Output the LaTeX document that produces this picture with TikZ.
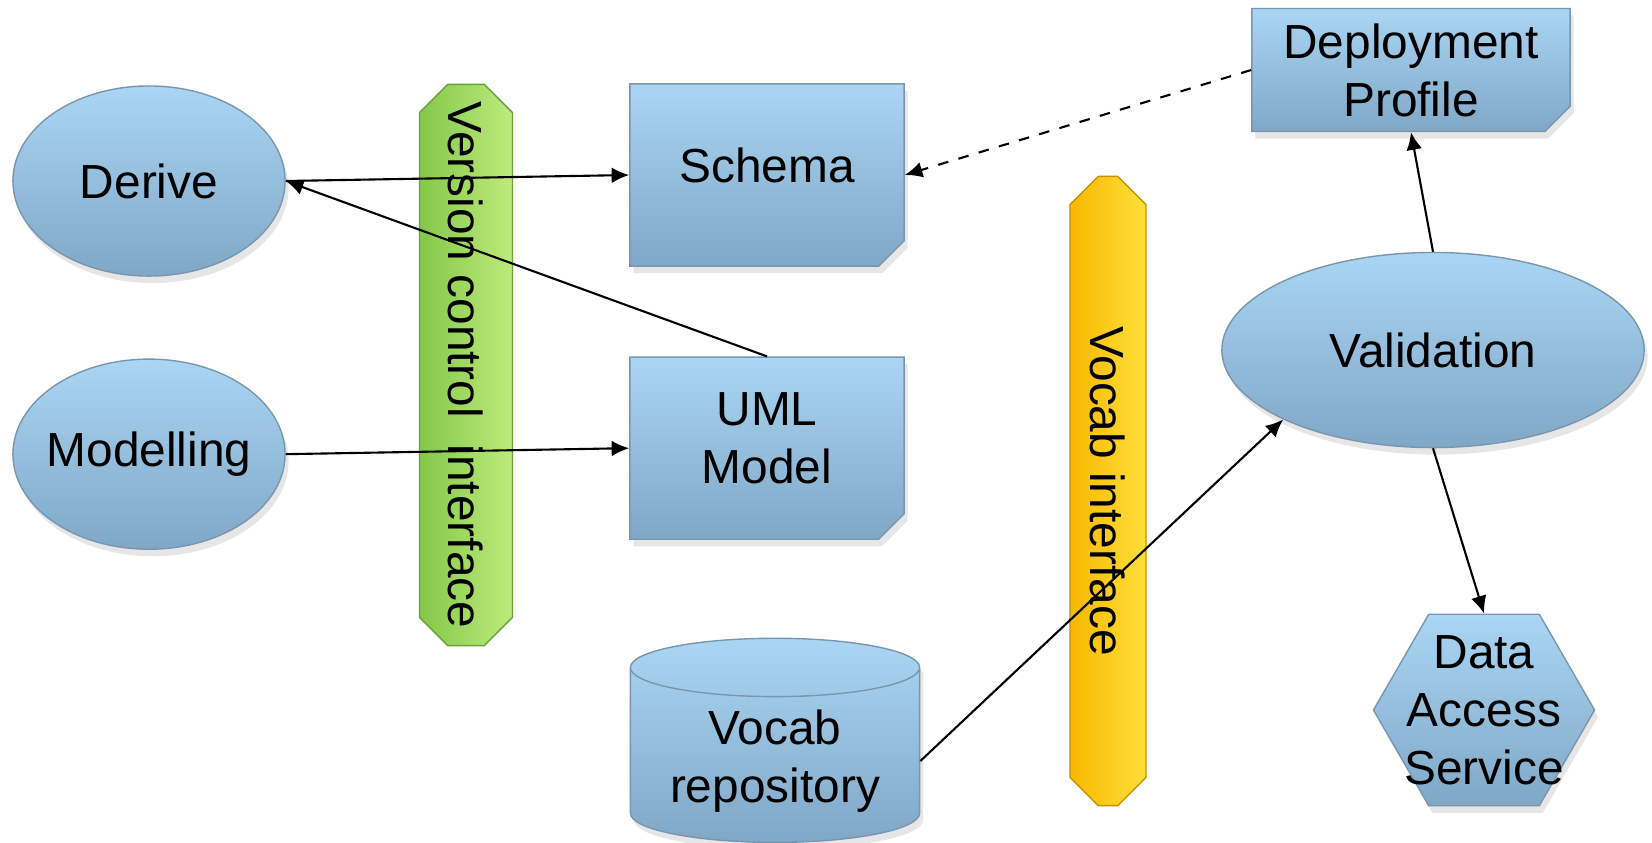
\documentclass[tikz,border=0pt]{standalone}
\usepackage{fontspec}
\setmainfont{Liberation Sans}
\usepackage{tikz}
\usetikzlibrary{shapes,shapes.geometric,shapes.misc,arrows.meta,positioning,shadows}
\definecolor{boxtop}{HTML}{AAD6F3}
\definecolor{boxbottom}{HTML}{80A7C6}
\definecolor{boxedge}{HTML}{7A96AE}
\definecolor{greenbar}{HTML}{92D050}
\definecolor{greenlight}{HTML}{BDEB7C}
\definecolor{greendark}{HTML}{84C848}
\definecolor{yellowbar}{HTML}{FFCA00}
\definecolor{yellowlight}{HTML}{FFDF3A}
\definecolor{yellowdark}{HTML}{F7B800}
\tikzstyle{base} = [draw=boxedge, line width=0.4pt, top color=boxtop, bottom color=boxbottom,
align=center, font=\fontsize{13.6}{16.5}\selectfont,
drop shadow={opacity=0.2, shadow xshift=1pt, shadow yshift=-2pt}]
\tikzstyle{oval} = [base, ellipse, inner xsep=-3pt, inner ysep=0pt, minimum width=2.72cm, minimum height=1.9cm]
\tikzstyle{sheet} = [base, chamfered rectangle, chamfered rectangle corners=south east,
chamfered rectangle xsep=0.13cm, text depth=0.2cm, minimum width=2.74cm, minimum height=1.82cm]
\tikzstyle{store} = [base, cylinder, shape border rotate=90, aspect=0.25, inner ysep=0pt,
cylinder uses custom fill, cylinder body fill=boxtop!60!boxbottom, cylinder end fill=boxtop!70!white,
minimum width=2.89cm, minimum height=2.04cm]
\tikzstyle{hexa} = [base, regular polygon, regular polygon sides=6, inner sep=0pt, minimum size=2.21cm]
\tikzstyle{bar} = [chamfered rectangle, chamfered rectangle xsep=0.16cm, rotate=-90, inner sep=0pt,
font=\fontsize{13.6}{16.5}\selectfont, line width=0.4pt]
\tikzstyle{line} = [draw, line width=0.6pt, -{Latex[length=5pt,width=4.5pt]}]

\begin{document}
\begin{tikzpicture}[x=0.01cm, y=-0.01cm, node distance=2.73cm]
    \useasboundingbox (0,0) rectangle (1652,842);

    % interface bars
    \node [bar, draw=greendark!80!black, left color=greendark, middle color=greenbar, right color=greenlight,
        minimum width=5.61cm, minimum height=0.93cm] (vcs) at (466,365) {Version control\ \ interface};
    \node [bar, draw=yellowdark!80!black, left color=yellowdark, middle color=yellowbar, right color=yellowlight,
        minimum width=6.29cm, minimum height=0.76cm] (vocabif) at (1108,491) {Vocab interface};

    % Nodes
    \node [oval] (derive) at (149,181) {Derive};
    \node [oval, below of=derive] (modelling) {Modelling};
    \node [sheet] (schema) at (767,175) {Schema};
    \node [sheet, below of=schema] (uml) {UML\\Model};
    \node [store] (vocabrepo) at (775,761) {Vocab\\repository};
    \node [sheet, inner ysep=0pt, text depth=, minimum width=3.18cm, minimum height=1.23cm] (deploy) at (1411,70) {Deployment\\Profile};
    \node [oval, minimum width=4.22cm, minimum height=1.95cm] (validation) at (1433,350) {Validation};
    \node [hexa, label={[align=center, font=\fontsize{13.6}{16.5}\selectfont]center:Data\\Access\\Service}] (das) at (1484,710) {};

    % arrows
    \path [line] (derive.east) -- (schema.west);
    \path [line] (uml.north) -- (derive.east);
    \path [line] (modelling.east) -- (uml.west);
    \path [line, dashed] (deploy.west) -- (schema.east);
    \path [line] (validation.north) -- (deploy.south);
    \path [line] (validation.south) -- (das.north);
    \path [line] (vocabrepo.east) -- (validation.south west);

\end{tikzpicture}
\end{document}
